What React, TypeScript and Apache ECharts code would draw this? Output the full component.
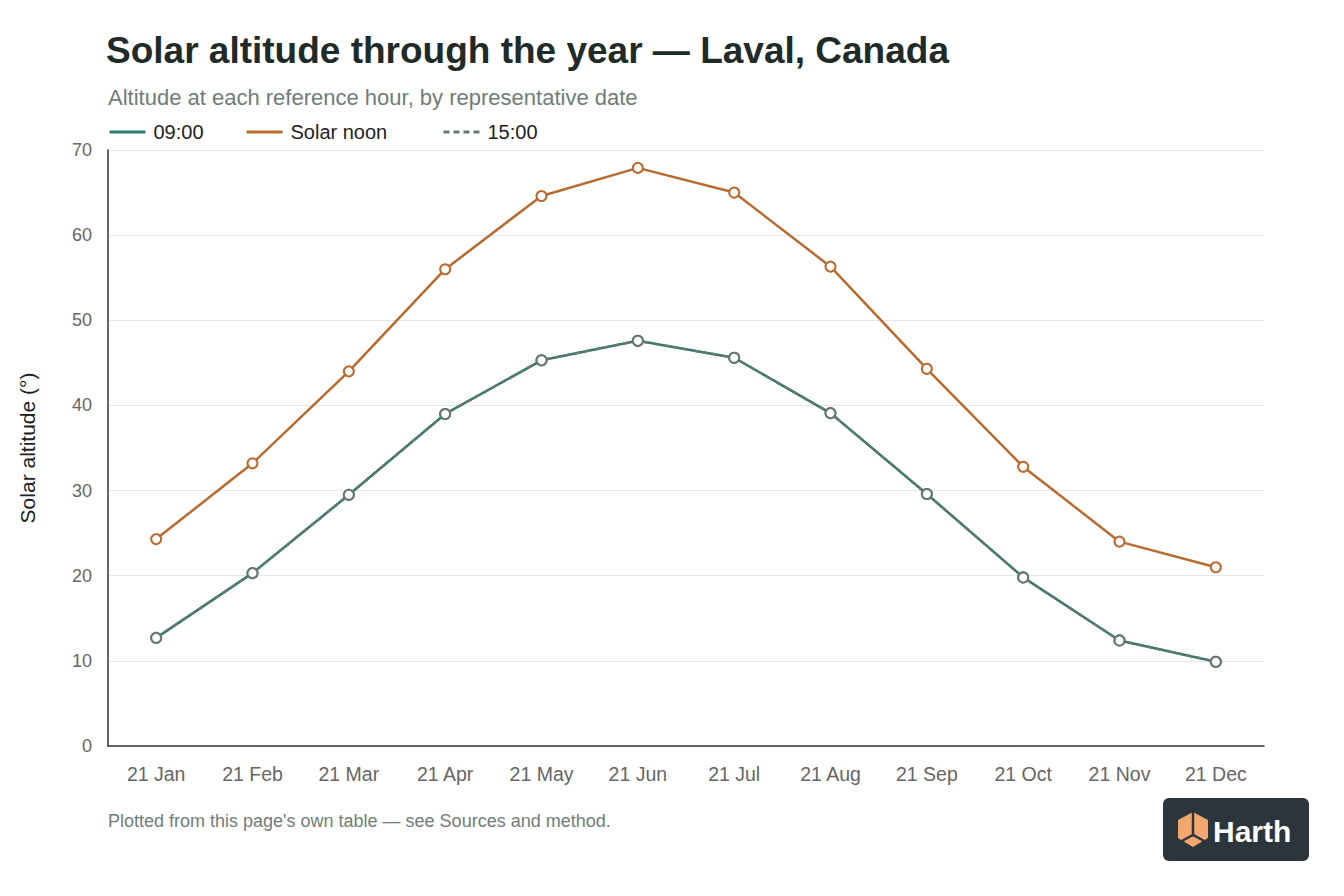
import React, { useEffect, useRef } from 'react'
import * as echarts from 'echarts'

// representative dates (21st of each month)
const dates = ['21 Jan', '21 Feb', '21 Mar', '21 Apr', '21 May', '21 Jun', '21 Jul', '21 Aug', '21 Sep', '21 Oct', '21 Nov', '21 Dec']

// solar altitude in degrees
const morning = [12.7, 20.3, 29.5, 39.0, 45.3, 47.6, 45.6, 39.1, 29.6, 19.8, 12.4, 9.9]
const noon = [24.3, 33.2, 44.0, 56.0, 64.6, 67.9, 65.0, 56.3, 44.3, 32.8, 24.0, 21.0]
const afternoon = [12.7, 20.3, 29.5, 39.0, 45.3, 47.6, 45.6, 39.1, 29.6, 19.8, 12.4, 9.9]

const seriesNames = ['09:00', 'Solar noon', '15:00']
const legendLeft = [108, 245, 442]

const FONT = "'Liberation Sans', Arial, Helvetica, sans-serif"
const TEAL = '#2b7d74'
const ORANGE = '#b96a2e'
const GREY = '#69786f'

const App: React.FC = () => {
  const chartRef = useRef<HTMLDivElement>(null)

  useEffect(() => {
    document.body.style.margin = '0'
    if (!chartRef.current) return
    const chart = echarts.init(chartRef.current, undefined, { renderer: 'svg' })

    const lineSeries = (name: string, data: number[], color: string, dashed = false) => ({
      name,
      type: 'line' as const,
      data,
      symbol: 'circle',
      symbolSize: 10,
      itemStyle: { color: '#fff', borderColor: color, borderWidth: 2 },
      lineStyle: { color, width: 2.5, type: dashed ? [6, 4] : 'solid' },
      emphasis: { disabled: true },
    })

    // one legend per item so each can sit where the reference puts it
    const legends = seriesNames.map((name, i) => ({
      left: legendLeft[i],
      top: 122,
      padding: 0,
      itemWidth: 36,
      itemHeight: 12,
      itemStyle: { opacity: 0 },
      lineStyle: { width: 3 },
      textStyle: { fontSize: 20, color: '#222', fontFamily: FONT, padding: [0, 0, 0, 3] },
      data: [name],
    }))

    chart.setOption({
      animation: false,
      backgroundColor: '#fff',
      textStyle: { fontFamily: FONT },
      title: [
        {
          text: 'Solar altitude through the year — Laval, Canada',
          left: 106,
          top: 32,
          padding: 0,
          textStyle: { fontSize: 37, fontWeight: 'bold', color: '#1f2b28', fontFamily: FONT },
        },
        {
          text: 'Altitude at each reference hour, by representative date',
          left: 108,
          top: 86,
          padding: 0,
          textStyle: { fontSize: 22, fontWeight: 'normal', color: '#6f7d78', fontFamily: FONT },
        },
      ],
      legend: legends,
      grid: { left: 108, right: 80, top: 150, bottom: 150 },
      xAxis: {
        type: 'category',
        data: dates,
        boundaryGap: true,
        axisLine: { lineStyle: { color: '#333', width: 1.5 } },
        axisTick: { show: false },
        axisLabel: { fontSize: 19.5, color: '#666', margin: 18, fontFamily: FONT },
      },
      yAxis: {
        type: 'value',
        min: 0,
        max: 70,
        interval: 10,
        name: 'Solar altitude (°)',
        nameLocation: 'middle',
        nameGap: 70,
        nameTextStyle: { fontSize: 21, color: '#222', fontFamily: FONT },
        axisLine: { show: true, lineStyle: { color: '#333', width: 1.5 } },
        axisTick: { show: false },
        axisLabel: { fontSize: 18, color: '#666', margin: 16, fontFamily: FONT },
        splitLine: { lineStyle: { color: '#e6e8e7', width: 1 } },
      },
      series: [
        lineSeries(seriesNames[0], morning, TEAL),
        lineSeries(seriesNames[1], noon, ORANGE),
        lineSeries(seriesNames[2], afternoon, GREY, true),
      ],
      graphic: [
        {
          type: 'text',
          left: 108,
          top: 812,
          style: {
            text: "Plotted from this page's own table — see Sources and method.",
            font: `18px ${FONT}`,
            fill: '#6f7d78',
          },
        },
        {
          type: 'group',
          left: 1163,
          top: 798,
          children: [
            {
              type: 'rect',
              shape: { x: 0, y: 0, width: 146, height: 63, r: 6 },
              style: { fill: '#2c353b' },
            },
            {
              type: 'polygon',
              shape: { points: [[30, 14], [45, 22], [45, 40], [30, 49], [15, 40], [15, 22]] },
              style: { fill: '#f3a66d' },
            },
            {
              type: 'polyline',
              shape: { points: [[30, 14], [30, 37]] },
              style: { stroke: '#2c353b', lineWidth: 2.5, fill: 'none' },
            },
            {
              type: 'polyline',
              shape: { points: [[17, 44], [30, 37], [43, 44]] },
              style: { stroke: '#2c353b', lineWidth: 2.5, fill: 'none' },
            },
            {
              type: 'text',
              x: 50,
              y: 33,
              style: {
                text: 'Harth',
                font: `bold 30px ${FONT}`,
                fill: '#fff',
                textVerticalAlign: 'middle',
              },
            },
          ],
        },
      ],
    })

    return () => {
      chart.dispose()
    }
  }, [])

  return <div ref={chartRef} style={{ width: 1344, height: 896 }} />
}

export default App
